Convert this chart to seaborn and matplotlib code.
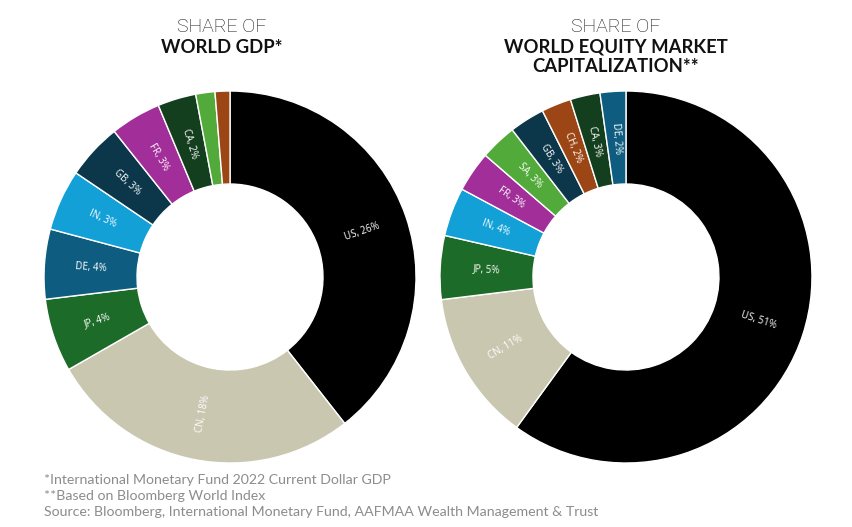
import matplotlib
matplotlib.use("Agg")
from matplotlib import pyplot as plt
import seaborn as sns
import numpy as np

# share of world GDP (slices drawn clockwise from 12 o'clock)
gdp_countries = ["US", "CN", "JP", "DE", "IN", "GB", "FR", "CA", "SA", "CH"]
gdp_share = [26.0, 18.0, 4.2, 4.0, 3.5, 3.2, 2.9, 2.2, 1.1, 0.85]
gdp_labels = ["US, 26%", "CN, 18%", "JP, 4%", "DE, 4%", "IN, 3%", "GB, 3%", "FR, 3%", "CA, 2%", "", ""]

# share of world equity market capitalization
mcap_countries = ["US", "CN", "JP", "IN", "FR", "SA", "GB", "CH", "CA", "DE"]
mcap_share = [51.0, 11.1, 4.7, 3.6, 3.0, 2.7, 2.6, 2.2, 2.2, 1.9]
mcap_labels = ["US, 51%", "CN, 11%", "JP, 5%", "IN, 4%", "FR, 3%", "SA, 3%", "GB, 3%", "CH, 2%", "CA, 3%", "DE, 2%"]

footnotes = [
    "*International Monetary Fund 2022 Current Dollar GDP",
    "**Based on Bloomberg World Index",
    "Source: Bloomberg, International Monetary Fund, AAFMAA Wealth Management & Trust",
]

COUNTRY_COLORS = {
    "US": "#000000",
    "CN": "#CAC7B1",
    "JP": "#1D6B28",
    "DE": "#0E5D80",
    "IN": "#12A0D7",
    "GB": "#0C374B",
    "FR": "#A22E99",
    "CA": "#143F1E",
    "SA": "#51AA3A",
    "CH": "#9C4615",
}

sns.set_theme(style="white")
plt.rcParams['font.family'] = ['Lato', 'DejaVu Sans']


def donut(ax, values, labels, countries):
    colors = sns.color_palette([COUNTRY_COLORS[c] for c in countries])
    wedges, _ = ax.pie(values, colors=colors, startangle=90, counterclock=False, radius=1,
                       wedgeprops=dict(width=0.5, edgecolor="white", linewidth=1))
    # labels sit in the middle of the ring, rotated along the radius
    for w, lab in zip(wedges, labels):
        if not lab:
            continue
        ang = (w.theta1 + w.theta2) / 2
        ang = (ang + 180) % 360 - 180
        x = 0.75 * np.cos(np.radians(ang))
        y = 0.75 * np.sin(np.radians(ang))
        rot = ang if -90 <= ang <= 90 else ang - 180
        ax.text(x, y, lab, rotation=rot, rotation_mode='anchor', ha='center', va='center',
                color='white', fontsize=7, family=['Open Sans', 'DejaVu Sans'])
    ax.set_xlim(-1, 1)
    ax.set_ylim(-1, 1)
    ax.set_aspect('equal')
    ax.axis('off')


fig = plt.figure(figsize=(8.53, 5.27), dpi=100)
ax1 = fig.add_axes([0.0516, 0.1214, 0.4361, 0.7059])
ax2 = fig.add_axes([0.5158, 0.1214, 0.4361, 0.7059])

donut(ax1, gdp_share, gdp_labels, gdp_countries)
donut(ax2, mcap_share, mcap_labels, mcap_countries)

# titles
light = dict(ha='center', va='center', fontsize=14, color='#111111', fontweight='light',
             family=['Roboto', 'DejaVu Sans'])
bold = dict(ha='center', va='center', fontsize=13.3, color='#111111', fontweight='bold')
fig.text(0.260, 0.9490, "SHARE OF", **light)
fig.text(0.260, 0.9090, "WORLD GDP*", **bold)
fig.text(0.7222, 0.9490, "SHARE OF", **light)
fig.text(0.7222, 0.9110, "WORLD EQUITY MARKET", **bold)
fig.text(0.7222, 0.8730, "CAPITALIZATION**", **bold)

# footnotes
for i, note in enumerate(footnotes):
    fig.text(0.0516, 0.0892 - i * 0.0304, note, ha='left', va='center', fontsize=10.2, color='#8c8c8c')

plt.savefig("out.png", dpi=100)
